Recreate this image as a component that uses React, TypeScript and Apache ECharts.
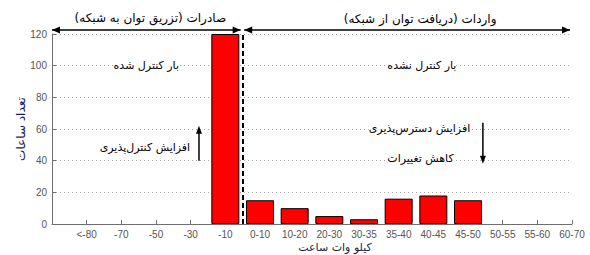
import React, { useEffect, useRef } from "react";
import * as echarts from "echarts";

const categories = ["<-80", "-70", "-50", "-30", "-10", "0-10", "10-20", "20-30", "30-35", "35-40", "40-45", "45-50", "50-55", "55-60", "60-70"];
const hours = [0, 0, 0, 0, 120, 15, 10, 5, 3, 16, 18, 15, 0, 0, 0];
const yMin = 0;
const yMax = 120;
const yStep = 20;
const boundaryPos = 5.5;

const exportTitle = "صادرات (تزریق توان به شبکه)\u200F";
const importTitle = "واردات (دریافت توان از شبکه)\u200F";
const yAxisTitle = "تعداد ساعات";
const xAxisTitle = "کیلو وات ساعت";
const leftNote1 = "بار کنترل شده";
const leftNote2 = "افزایش کنترل\u200Cپذیری";
const rightNote1 = "بار کنترل نشده";
const rightNote2 = "افزایش دسترس\u200Cپذیری";
const rightNote3 = "کاهش تغییرات";

const FA = "'DejaVu Sans', sans-serif";
const LAT = "'Liberation Sans', Arial, sans-serif";

export default function App() {
  const ref = useRef<HTMLDivElement>(null);
  useEffect(() => {
    const chart = echarts.init(ref.current!, null, { renderer: "svg" });
    chart.setOption({
      animation: false,
      backgroundColor: "#fff",
      grid: { left: 52, right: 18, top: 34, bottom: 31 },
      xAxis: {
        type: "value",
        min: 0,
        max: categories.length,
        interval: 1,
        axisLine: { show: true, onZero: false, lineStyle: { color: "#6e6e6e", width: 1 } },
        axisTick: { show: true, inside: true, length: 4, lineStyle: { color: "#6e6e6e" } },
        axisLabel: {
          color: "#555",
          fontSize: 10,
          fontFamily: LAT,
          margin: 5,
          formatter: (v: number) => (categories[v - 1] !== undefined ? "\u200E" + categories[v - 1] : ""),
        },
        splitLine: { show: false },
      },
      yAxis: {
        type: "value",
        min: yMin,
        max: yMax,
        interval: yStep,
        axisLine: { show: true, lineStyle: { color: "#6e6e6e", width: 1 } },
        axisTick: { show: true, inside: true, length: 4, lineStyle: { color: "#6e6e6e" } },
        axisLabel: { color: "#555", fontSize: 10, fontFamily: LAT, margin: 5 },
        splitLine: { show: true, lineStyle: { type: [1, 3], color: "#a8a8a8", width: 1 } },
      },
      series: [
        {
          type: "bar",
          barWidth: 28,
          data: hours.map((v, i) => ({
            value: [i + 1, v],
            itemStyle: v === 0 ? { borderWidth: 0, opacity: 0 } : undefined,
          })),
          itemStyle: { color: "#ff0000", borderColor: "#000", borderWidth: 1 },
          markLine: {
            silent: true,
            symbol: "none",
            label: { show: false },
            lineStyle: { color: "#000", type: [5, 3], width: 2 },
            data: [{ xAxis: boundaryPos }],
          },
        },
      ],
    });

    const px = (x: number, y: number) => chart.convertToPixel({ gridIndex: 0 }, [x, y]) as number[];
    const [x0, yTop] = px(0, yMax);
    const [xB] = px(boundaryPos, yMax);
    const [xEnd, yBottom] = px(categories.length, 0);
    const ay = yTop - 4;
    const head = (tipX: number, tipY: number, dir: number) => ({
      type: "polygon",
      shape: { points: [[tipX, tipY], [tipX - dir * 8, tipY - 3.5], [tipX - dir * 8, tipY + 3.5]] },
      style: { fill: "#000" },
    });
    const vhead = (tipX: number, tipY: number, dir: number) => ({
      type: "polygon",
      shape: { points: [[tipX, tipY], [tipX - 3, tipY - dir * 8], [tipX + 3, tipY - dir * 8]] },
      style: { fill: "#000" },
    });
    const line = (x1: number, y1: number, x2: number, y2: number) => ({
      type: "line",
      shape: { x1, y1, x2, y2 },
      style: { stroke: "#000", lineWidth: 1.5 },
    });
    const text = (t: string, x: number, y: number, size: number, bg = true, color = "#000") => ({
      type: "text",
      x,
      y,
      z: 10,
      style: {
        text: t,
        x: 0,
        y: 0,
        fill: color,
        fontSize: size,
        fontFamily: FA,
        align: "center",
        verticalAlign: "middle",
        backgroundColor: bg ? "#fff" : undefined,
      },
    });
    const lx1 = x0, lx2 = xB - 2, rx1 = xB + 1.5, rx2 = xEnd - 2;
    const [ax] = px(4.24, 0);
    const [, aTop] = px(0, 62);
    const [, aBot] = px(0, 40);
    const [bx] = px(12.43, 0);
    const [, bTop] = px(0, 64);
    const [, bBot] = px(0, 38);
    const [n1x, n1y] = px(2.72, 100);
    const [n2x, n2y] = px(2.68, 48.6);
    const [m1x] = px(10.67, 100);
    const [m2x, m2y] = px(10.6, 60.5);
    const [m3x, m3y] = px(10.63, 41.5);

    chart.setOption({
      graphic: [
        line(lx1, ay, lx2, ay),
        head(lx1, ay, -1),
        head(lx2, ay, 1),
        line(rx1, ay, rx2, ay),
        head(rx1, ay, -1),
        head(rx2, ay, 1),
        text(exportTitle, (lx1 + lx2) / 2 + 4, 18, 12, false),
        text(importTitle, (rx1 + rx2) / 2 + 13, 19, 12, false),
        text(leftNote1, n1x, n1y, 11),
        text(leftNote2, n2x, n2y, 11),
        text(rightNote1, m1x, n1y, 11),
        text(rightNote2, m2x, m2y, 11),
        text(rightNote3, m3x, m3y, 11),
        line(ax, aBot, ax, aTop + 6),
        vhead(ax, aTop, -1),
        line(bx, bTop, bx, bBot - 6),
        vhead(bx, bBot, 1),
        {
          type: "text",
          x: 21,
          y: (yTop + yBottom) / 2,
          rotation: Math.PI / 2,
          style: {
            text: yAxisTitle,
            x: 0,
            y: 0,
            fill: "#1c1c5c",
            fontSize: 12,
            fontFamily: FA,
            align: "center",
            verticalAlign: "middle",
          },
        },
        text(xAxisTitle, 335, 247, 11, false, "#1c1c3c"),
      ],
    });
    return () => chart.dispose();
  }, []);
  return <div ref={ref} style={{ position: "fixed", left: 0, top: 0, width: 590, height: 255 }} />;
}
